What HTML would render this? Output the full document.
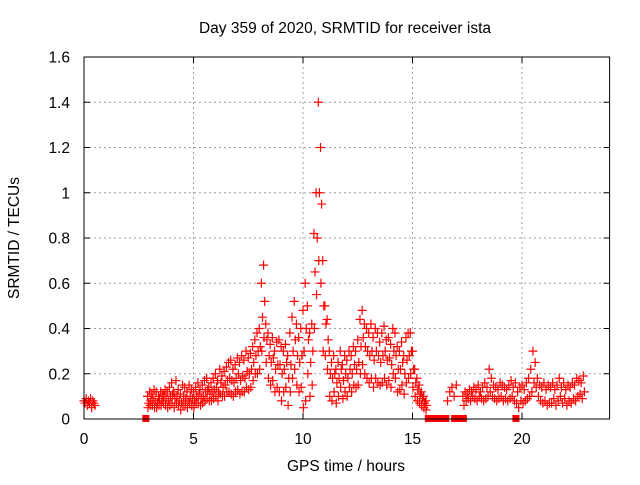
<!DOCTYPE html>
<html><head><meta charset="utf-8"><style>
body{margin:0;background:#fff}
svg text{font-family:"Liberation Sans",sans-serif;font-size:15.5px;fill:#000}
</style></head><body>
<svg id="chart" width="640" height="480" viewBox="0 0 640 480" xmlns="http://www.w3.org/2000/svg">
<rect width="640" height="480" fill="#fff"/>
<text x="345" y="33" text-anchor="middle">Day 359 of 2020, SRMTID for receiver ista</text>
<text x="346" y="471" text-anchor="middle">GPS time / hours</text>
<text x="0" y="0" text-anchor="middle" transform="translate(19,238) rotate(-90)">SRMTID / TECUs</text>
<g id="grid"></g>
<g id="axes"></g>
<g id="marks"></g>
<rect x="84" y="57" width="525.6" height="362" fill="none" stroke="#000" stroke-width="1"/>
</svg>
<script>
const xTicks=[0,5,10,15,20];
const yTicks=[0,0.2,0.4,0.6,0.8,1,1.2,1.4,1.6];
const yTickLabels=["0","0.2","0.4","0.6","0.8","1","1.2","1.4","1.6"];
const segAStart=0.0, segAStep=0.05;
const segAValues=[.08,.07,.09,.06,.08,.07,.09,.05,.08,.07,.06];
const segBStart=2.9, segBStep=0.1;
const segBHigh=[.10,.12,.11,.13,.12,.10,.12,.11,.13,.12,
.14,.16,.12,.17,.13,.11,.15,.14,.12,.15,
.13,.12,.14,.16,.13,.15,.17,.18,.14,.16,
.18,.20,.17,.22,.19,.21,.23,.25,.26,.22,
.24,.27,.25,.28,.26,.30,.27,.29,.32,.35,
.38,.40,.60,.68,.42,.38,.33,.36,.30,.34,
.35,.32,.30,.33,.28,.38,.45,.52,.42,.36,
.40,.48,.60,.50,.38,.42,.82,1.0,1.40,1.20,
.70,.50,.44,.30,.25,.28,.22,.25,.30,.24,
.28,.26,.30,.28,.32,.30,.35,.44,.48,.42,
.40,.38,.42,.36,.40,.38,.34,.38,.41,.35,
.36,.33,.40,.38,.32,.30,.34,.28,.36,.38,
.38,.30,.22,.18,.15,.12,.10,.08];
const segBMid=[.07,.08,.09,.08,.07,.09,.08,.10,.09,.08,
.10,.11,.09,.10,.08,.07,.10,.09,.08,.10,
.09,.08,.10,.11,.09,.10,.12,.13,.11,.12,
.13,.14,.12,.16,.14,.15,.17,.18,.17,.16,
.18,.20,.17,.19,.18,.21,.20,.22,.25,.28,
.30,.32,.45,.52,.35,.28,.25,.27,.22,.24,
.24,.20,.22,.25,.18,.24,.30,.35,.28,.25,
.28,.30,.40,.35,.25,.30,.65,.80,1.00,.95,
.50,.42,.35,.20,.18,.20,.16,.18,.22,.17,
.20,.18,.22,.20,.24,.22,.25,.32,.36,.32,
.30,.28,.30,.26,.30,.28,.25,.28,.30,.26,
.27,.24,.30,.28,.22,.22,.25,.20,.26,.28,
.30,.22,.16,.13,.11,.09,.07,.06];
const segBLow=[.05,.06,.06,.05,.05,.06,.06,.07,.06,.05,
.06,.07,.05,.07,.06,.04,.06,.06,.05,.07,
.06,.05,.07,.07,.06,.07,.08,.09,.08,.08,
.09,.10,.08,.11,.10,.10,.12,.12,.11,.10,
.12,.13,.11,.12,.12,.14,.13,.14,.17,.20,
.20,.22,.30,.36,.25,.18,.15,.17,.12,.14,
.12,.08,.12,.14,.06,.12,.18,.22,.15,.12,
.14,.05,.08,.20,.10,.15,.40,.55,.70,.60,
.30,.28,.22,.10,.08,.12,.07,.10,.14,.09,
.12,.10,.14,.12,.15,.14,.15,.20,.24,.20,
.18,.16,.18,.14,.18,.16,.15,.16,.18,.15,
.17,.14,.20,.18,.12,.13,.15,.11,.16,.18,
.20,.14,.10,.08,.07,.06,.05,.04];
const segCStart=16.6, segCStep=0.1;
const segCValues=[.08,.12,.14,.10,.15];
const segDStart=17.3, segDStep=0.1;
const segDHigh=[.10,.12,.11,.13,.12,.14,.13,.15,.12,.14,
.16,.14,.22,.18,.15,.14,.13,.16,.15,.14,
.13,.15,.17,.14,.16,.12,.14,.15,.13,.16,
.18,.22,.30,.25,.18,.15,.14,.16,.13,.15,
.14,.16,.13,.15,.18,.14,.16,.13,.15,.14,
.16,.15,.18,.17,.16,.19];
const segDLow=[.06,.08,.09,.08,.10,.09,.08,.10,.09,.08,
.09,.10,.12,.10,.09,.08,.09,.10,.08,.09,
.08,.09,.10,.08,.07,.05,.08,.07,.08,.09,
.10,.12,.16,.14,.10,.08,.07,.08,.06,.07,
.07,.09,.06,.08,.10,.07,.09,.06,.08,.07,
.09,.08,.10,.11,.09,.12];
const zeroTimes=[2.8,15.7,15.8,15.9,16.0,16.1,16.2,16.3,16.4,16.5,16.9,17.2,17.3,19.7];

const NS="http://www.w3.org/2000/svg";
const X0=84,X1=609.6,Y0=419,Y1=57;
function xs(t){return X0+(X1-X0)*t/24;}
function ys(v){return Y0-(Y0-Y1)*v/1.6;}
const grid=document.getElementById('grid'),axes=document.getElementById('axes'),marks=document.getElementById('marks');
function mk(tag,attrs,parent){const e=document.createElementNS(NS,tag);for(const k in attrs)e.setAttribute(k,attrs[k]);parent.appendChild(e);return e;}
xTicks.forEach(t=>{
  const x=xs(t);
  if(t>0){const g=mk('line',{x1:x,x2:x,y1:Y1,y2:Y0,stroke:'#a0a0a0','stroke-dasharray':'2,3'},grid);
  
  }
  mk('line',{x1:x,x2:x,y1:Y0,y2:Y0-6,stroke:'#000'},axes);
  mk('line',{x1:x,x2:x,y1:Y1,y2:Y1+6,stroke:'#000'},axes);
  const tx=mk('text',{x:x,y:Y0+25,'text-anchor':'middle'},axes);tx.textContent=String(t);
  
  
});
yTicks.forEach((v,i)=>{
  const y=ys(v);
  if(v>0&&v<1.6){const g=mk('line',{x1:X0,x2:X1,y1:y,y2:y,stroke:'#a0a0a0','stroke-dasharray':'2,3'},grid);
  
  }
  mk('line',{x1:X0,x2:X0+6,y1:y,y2:y,stroke:'#000'},axes);
  mk('line',{x1:X1,x2:X1-6,y1:y,y2:y,stroke:'#000'},axes);
  const tx=mk('text',{x:X0-14,y:y+5.5,'text-anchor':'end'},axes);tx.textContent=yTickLabels[i];
  
  
});
function plus(t,v){
  const x=xs(t),y=ys(v);
  const p=mk('path',{d:`M${x-4.5},${y}H${x+4.5}M${x},${y-4.5}V${y+4.5}`,stroke:'#f00','stroke-width':1.2,fill:'none'},marks);
  
  
}
function seg(start,step,arr,off){arr.forEach((v,i)=>plus(start+i*step+off,v));}
seg(segAStart,segAStep,segAValues,0);
seg(segBStart,segBStep,segBHigh,0);
seg(segBStart,segBStep,segBMid,0.05);
seg(segBStart,segBStep,segBLow,0.02);
seg(segCStart,segCStep,segCValues,0);
seg(segDStart,segDStep,segDHigh,0);
seg(segDStart,segDStep,segDLow,0.05);
zeroTimes.forEach(t=>{
  const r=mk('rect',{x:xs(t)-3,y:Y0-4,width:7,height:7,fill:'#f00'},marks);
  
  
});
</script>
</body></html>
